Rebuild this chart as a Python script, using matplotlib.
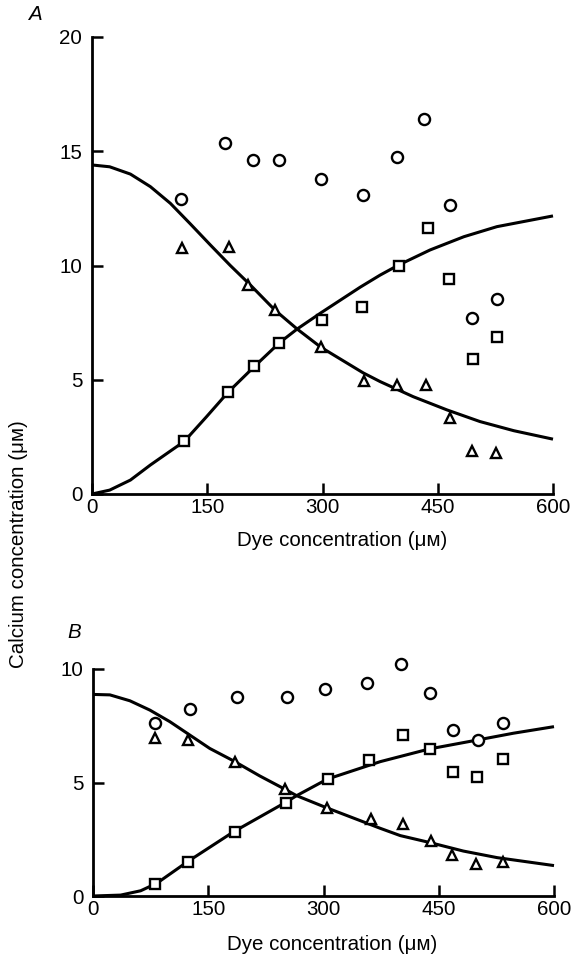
import matplotlib
matplotlib.use("Agg")
import matplotlib.pyplot as plt

plt.rcParams['font.family'] = ['Liberation Sans', 'DejaVu Sans']

# panel A - points
a_circ_x = [116, 173, 210, 244, 298, 353, 397, 432, 466, 495, 527]
a_circ_y = [12.9, 15.36, 14.6, 14.6, 13.8, 13.1, 14.75, 16.4, 12.65, 7.7, 8.53]
a_tri_x = [117, 178, 203, 238, 298, 354, 397, 435, 466, 495, 526]
a_tri_y = [10.75, 10.8, 9.15, 8.05, 6.43, 4.95, 4.77, 4.77, 3.33, 1.9, 1.8]
a_sq_x = [120, 177, 211, 244, 299, 352, 400, 437, 465, 496, 527]
a_sq_y = [2.3, 4.45, 5.6, 6.6, 7.6, 8.2, 10.0, 11.65, 9.4, 5.9, 6.87]

# panel A - fitted curves
a_fall_x = [0, 23, 50, 76, 102, 128, 154, 180, 206, 238, 267, 298, 353, 375, 418, 462, 505, 549, 600]
a_fall_y = [14.4, 14.32, 14.0, 13.45, 12.72, 11.82, 10.9, 10.0, 9.15, 8.05, 7.22, 6.42, 5.3, 4.92, 4.26, 3.68, 3.17, 2.77, 2.4]
a_rise_x = [0, 23, 50, 76, 102, 120, 149, 177, 211, 244, 267, 298, 349, 375, 399, 440, 484, 527, 600]
a_rise_y = [0, 0.17, 0.61, 1.27, 1.88, 2.3, 3.38, 4.45, 5.57, 6.62, 7.22, 7.93, 9.05, 9.58, 10.02, 10.68, 11.26, 11.7, 12.17]

# panel B - points
b_circ_x = [81, 126, 187, 253, 302, 356, 401, 438, 469, 501, 533]
b_circ_y = [7.6, 8.25, 8.77, 8.77, 9.1, 9.37, 10.2, 8.95, 7.3, 6.87, 7.6]
b_tri_x = [81, 124, 185, 250, 304, 362, 404, 440, 467, 499, 534]
b_tri_y = [6.95, 6.87, 5.9, 4.7, 3.88, 3.38, 3.17, 2.42, 1.8, 1.4, 1.5]
b_sq_x = [81, 124, 185, 251, 306, 359, 404, 439, 469, 500, 533]
b_sq_y = [0.53, 1.5, 2.82, 4.1, 5.15, 5.99, 7.09, 6.48, 5.46, 5.24, 6.04]

# panel B - fitted curves
b_fall_x = [0, 22, 48, 74, 100, 126, 152, 183, 217, 250, 265, 303, 374, 400, 439, 482, 526, 600]
b_fall_y = [8.88, 8.86, 8.6, 8.19, 7.68, 7.09, 6.5, 5.95, 5.29, 4.7, 4.42, 3.9, 2.98, 2.66, 2.35, 1.98, 1.69, 1.34]
b_rise_x = [0, 36, 62, 83, 123, 183, 251, 265, 305, 374, 438, 500, 547, 600]
b_rise_y = [0, 0.04, 0.23, 0.56, 1.51, 2.83, 4.13, 4.42, 5.15, 5.92, 6.48, 6.87, 7.17, 7.46]

xticks = [0, 150, 300, 450, 600]
fs = 14.8

fig = plt.figure(figsize=(5.72, 9.6), dpi=100)
axA = fig.add_axes([92/572, 1-494/960, 461/572, 457/960])
axB = fig.add_axes([93/572, 1-896/960, 461/572, 227/960])


def style(ax, ymax, yticks):
    ax.set_xlim(0, 600)
    ax.set_ylim(0, ymax)
    for s in ['top', 'right']:
        ax.spines[s].set_visible(False)
    for s in ['left', 'bottom']:
        ax.spines[s].set_linewidth(2.0)
    ax.set_xticks(xticks)
    ax.set_yticks(yticks)
    ax.tick_params(direction='in', length=8, width=1.8, labelsize=fs)
    ax.tick_params(axis='x', pad=3)
    ax.tick_params(axis='y', pad=7)


def draw(ax, fx, fy, rx, ry, cx, cy, tx, ty, sx, sy):
    ax.plot(fx, fy, 'k-', lw=2.2, clip_on=False, solid_capstyle='butt', solid_joinstyle='round')
    ax.plot(rx, ry, 'k-', lw=2.2, clip_on=False, solid_capstyle='butt', solid_joinstyle='round')
    ax.plot(cx, cy, 'o', ms=8, mfc='white', mec='black', mew=1.7, ls='none', zorder=3, clip_on=False)
    ax.plot(tx, ty, '^', ms=7, mfc='white', mec='black', mew=1.7, ls='none', zorder=3, clip_on=False)
    ax.plot(sx, sy, 's', ms=6.5, mfc='white', mec='black', mew=1.7, ls='none', zorder=3, clip_on=False)


draw(axA, a_fall_x, a_fall_y, a_rise_x, a_rise_y, a_circ_x, a_circ_y, a_tri_x, a_tri_y, a_sq_x, a_sq_y)
draw(axB, b_fall_x, b_fall_y, b_rise_x, b_rise_y, b_circ_x, b_circ_y, b_tri_x, b_tri_y, b_sq_x, b_sq_y)
style(axA, 20, [0, 5, 10, 15, 20])
style(axB, 10, [0, 5, 10])

fig.text(35/572, 1-15/960, 'A', fontsize=fs, style='italic', ha='center', va='center')
fig.text(74/572, 1-633/960, 'B', fontsize=fs, style='italic', ha='center', va='center')
fig.text(19/572, 1-544/960, 'Calcium concentration (μᴍ)', fontsize=fs, rotation=90,
         ha='center', va='center')
fig.text(342/572, 1-540/960, 'Dye concentration (μᴍ)', fontsize=fs, ha='center', va='center')
fig.text(332/572, 1-945/960, 'Dye concentration (μᴍ)', fontsize=fs, ha='center', va='center')

fig.savefig('out.png', dpi=100)
